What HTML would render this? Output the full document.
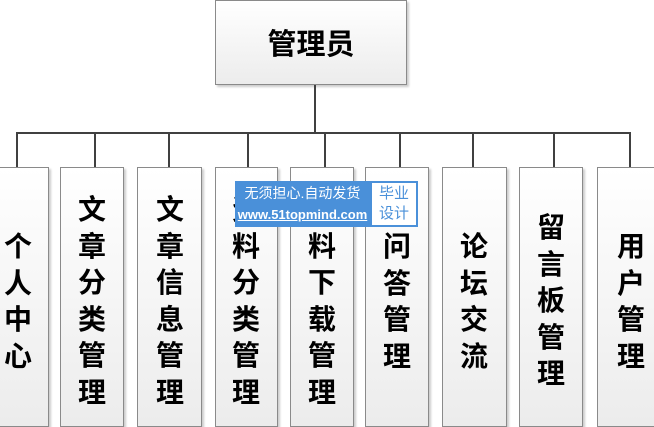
<!DOCTYPE html>
<html><head><meta charset="utf-8"><style>
body{margin:0;width:654px;height:410px;overflow:hidden;background:#fff;position:relative;font-family:"Liberation Sans","Noto Sans CJK SC",sans-serif}
.b{position:absolute;box-sizing:border-box;border:1px solid #8a8a8a;background:linear-gradient(#fff,#ececec);box-shadow:2px 2px 2px #ccc}
.l{position:absolute;background:#404040}
.t{position:absolute;width:40px;text-align:center;font-size:28px;font-weight:bold;line-height:36.5px;color:#000}
</style></head><body>
<div class="b" style="left:215px;top:0;width:192px;height:85px"></div>
<div style="position:absolute;left:215px;top:21px;width:192px;text-align:center;font-size:29px;font-weight:bold;color:#000">管理员</div>
<div class="l" style="left:314px;top:85px;width:2px;height:49px"></div>
<div class="l" style="left:16px;top:132px;width:615px;height:2px"></div>

<div class="b" style="left:-13px;top:167px;width:62px;height:260px"></div>
<div class="b" style="left:60px;top:167px;width:64px;height:260px"></div>
<div class="b" style="left:137px;top:167px;width:65px;height:260px"></div>
<div class="b" style="left:215px;top:167px;width:63px;height:260px"></div>
<div class="b" style="left:290px;top:167px;width:64px;height:260px"></div>
<div class="b" style="left:365px;top:167px;width:64px;height:260px"></div>
<div class="b" style="left:442px;top:167px;width:65px;height:260px"></div>
<div class="b" style="left:519px;top:167px;width:64px;height:260px"></div>
<div class="b" style="left:597px;top:167px;width:70px;height:260px"></div>

<div class="l" style="left:16px;top:133px;width:2px;height:34px"></div>
<div class="l" style="left:94px;top:133px;width:2px;height:34px"></div>
<div class="l" style="left:168px;top:133px;width:2px;height:34px"></div>
<div class="l" style="left:247px;top:133px;width:2px;height:34px"></div>
<div class="l" style="left:324px;top:133px;width:2px;height:34px"></div>
<div class="l" style="left:399px;top:133px;width:2px;height:34px"></div>
<div class="l" style="left:472px;top:133px;width:2px;height:34px"></div>
<div class="l" style="left:553px;top:133px;width:2px;height:34px"></div>
<div class="l" style="left:629px;top:133px;width:2px;height:34px"></div>

<div class="t" style="left:-2px;top:229px">个<br>人<br>中<br>心</div>
<div class="t" style="left:72px;top:192px">文<br>章<br>分<br>类<br>管<br>理</div>
<div class="t" style="left:150px;top:192px">文<br>章<br>信<br>息<br>管<br>理</div>
<div class="t" style="left:226px;top:192px">资<br>料<br>分<br>类<br>管<br>理</div>
<div class="t" style="left:302px;top:192px">资<br>料<br>下<br>载<br>管<br>理</div>
<div class="t" style="left:377px;top:229px">问<br>答<br>管<br>理</div>
<div class="t" style="left:454px;top:229px">论<br>坛<br>交<br>流</div>
<div class="t" style="left:531px;top:210px">留<br>言<br>板<br>管<br>理</div>
<div class="t" style="left:611px;top:229px">用<br>户<br>管<br>理</div>

<div style="position:absolute;left:235px;top:181px;width:135px;height:46px;background:#4a90d9;color:#fff;font-size:14px;text-align:center;line-height:21px;padding-top:2px;box-sizing:border-box">无须担心.自动发货<br><span style="font-size:13px;font-weight:bold;text-decoration:underline">www.51topmind.com</span></div>
<div style="position:absolute;left:370px;top:181px;width:48px;height:46px;background:#fff;border:2px solid #4a90d9;box-sizing:border-box;color:#4a90d9;font-size:15px;line-height:20px;text-align:center;padding-top:1px">毕业<br>设计</div>
</body></html>
